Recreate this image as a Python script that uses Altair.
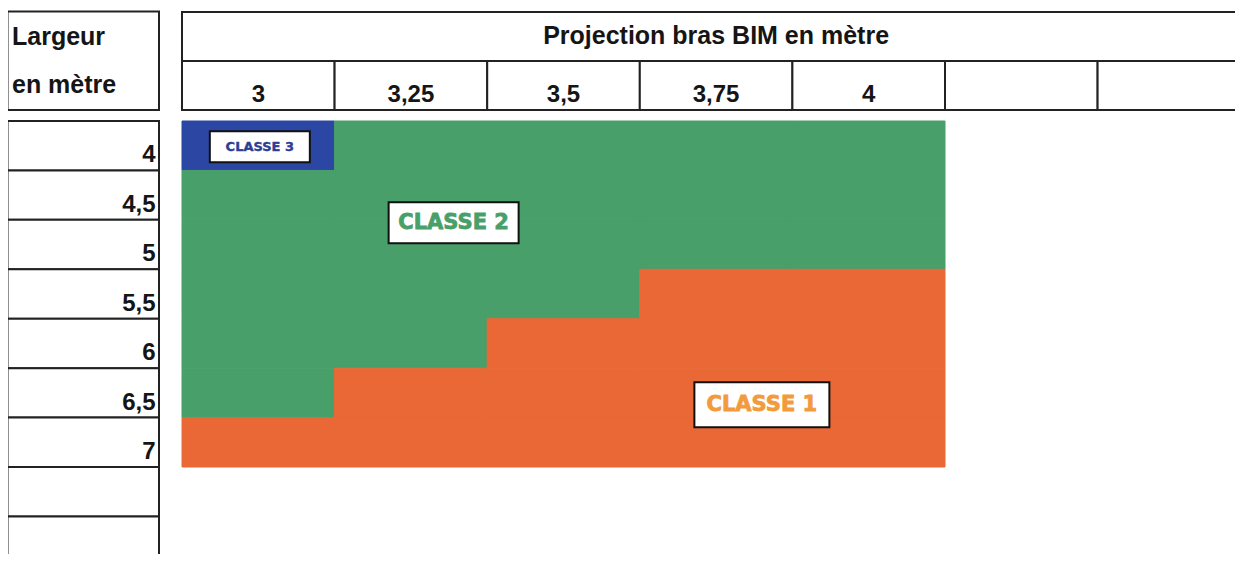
import altair as alt
import pandas as pd

# ---------------- data ----------------
projections = [3, 3.25, 3.5, 3.75, 4]          # Projection bras BIM (m)
n_empty_cols = 2                                # empty header cells on the right
largeurs = [4, 4.5, 5, 5.5, 6, 6.5, 7]          # Largeur (m)
n_empty_rows = 2                                # empty row cells below
# class per (largeur row, projection column)
classes = [
    [3, 2, 2, 2, 2],
    [2, 2, 2, 2, 2],
    [2, 2, 2, 2, 2],
    [2, 2, 2, 1, 1],
    [2, 2, 1, 1, 1],
    [2, 1, 1, 1, 1],
    [1, 1, 1, 1, 1],
]
class_names = ["CLASSE 1", "CLASSE 2", "CLASSE 3"]
class_colors = ["#E96836", "#489F6A", "#2B46A3"]
label_colors = ["#F29A3C", "#489F6A", "#2E3D94"]
# annotation labels: class, centre (column units, row units)
ann_class = [3, 2, 1]
ann_col = [0.51, 1.78, 3.80]
ann_row = [0.52, 2.06, 5.74]

header_title = "Projection bras BIM en mètre"
left_title = ["Largeur", "en mètre"]


def fmt(v):
    return f"{v:g}".replace(".", ",")


# ---------------- layout (px) ----------------
W, H = 1227, 546
X0, CW = 182.0, 152.6       # left of grid, column width
Y0, RH = 121.0, 49.43       # top of grid, row height
ox, oy = 8.0, 8.0           # page margin


def u(px):
    return (px - X0) / CW


def v(py):
    return (py - Y0) / RH


xs = alt.Scale(domain=[u(ox), u(ox + W)], nice=False, zero=False)
ys = alt.Scale(domain=[v(oy), v(oy + H)], nice=False, zero=False, reverse=True)


def enc_rect(ch):
    return ch.encode(
        x=alt.X("x0:Q", scale=xs, axis=None),
        x2="x1:Q",
        y=alt.Y("y0:Q", scale=ys, axis=None),
        y2="y1:Q",
    )


def enc_pt(ch):
    return ch.encode(
        x=alt.X("x:Q", scale=xs, axis=None),
        y=alt.Y("y:Q", scale=ys, axis=None),
        text="t:N",
    )


LINE = "#222222"
TXT = "#151515"
FONT = "Liberation Sans"

n_cols = len(projections) + n_empty_cols
n_rows = len(largeurs) + n_empty_rows
lc0, lc1 = u(7.5), u(159.0)
h_top, h_mid, h_bot = v(12.0), v(61.0), v(110.0)

# table frame boxes
boxes = [dict(x0=lc0, x1=lc1, y0=v(11.5), y1=h_bot),
         dict(x0=0, x1=n_cols, y0=h_top, y1=h_mid)]
for i in range(n_cols):
    boxes.append(dict(x0=i, x1=i + 1, y0=h_mid, y1=h_bot))
for j in range(n_rows):
    boxes.append(dict(x0=lc0, x1=lc1, y0=j, y1=j + 1))
frame = enc_rect(alt.Chart(pd.DataFrame(boxes)).mark_rect(
    fill="white", stroke=LINE, strokeWidth=2))

# heatmap cells
cells = []
for j, lg in enumerate(largeurs):
    for i, pr in enumerate(projections):
        c = classes[j][i]
        cells.append(dict(largeur=lg, projection=pr, cls=class_names[c - 1],
                          x0=i, x1=i + 1, y0=j, y1=j + 1))
cscale = alt.Scale(domain=class_names, range=class_colors)
heat = enc_rect(alt.Chart(pd.DataFrame(cells)).mark_rect(strokeWidth=1)).encode(
    color=alt.Color("cls:N", scale=cscale, legend=None),
    stroke=alt.Stroke("cls:N", scale=cscale, legend=None),
)

# texts
col_lbl = [fmt(p) for p in projections] + [""] * n_empty_cols
row_lbl = [fmt(l) for l in largeurs] + [""] * n_empty_rows
col_df = pd.DataFrame(dict(x=[i + 0.5 for i in range(n_cols)],
                           y=[h_bot - 8.3 / RH] * n_cols, t=col_lbl))
row_df = pd.DataFrame(dict(x=[u(155.5)] * n_rows,
                           y=[j + 1 - 8.0 / RH for j in range(n_rows)], t=row_lbl))
col_txt = enc_pt(alt.Chart(col_df).mark_text(
    font=FONT, fontSize=24, fontWeight="bold", color=TXT, align="center", baseline="alphabetic"))
row_txt = enc_pt(alt.Chart(row_df).mark_text(
    font=FONT, fontSize=24, fontWeight="bold", color=TXT, align="right", baseline="alphabetic"))
title_df = pd.DataFrame(dict(x=[n_cols / 2], y=[v(44.0)], t=[header_title]))
title_txt = enc_pt(alt.Chart(title_df).mark_text(
    font=FONT, fontSize=25, fontWeight="bold", color=TXT, align="center", baseline="alphabetic"))
left_df = pd.DataFrame(dict(x=[u(12.0)] * 2, y=[v(45.0), v(93.0)], t=left_title))
left_txt = enc_pt(alt.Chart(left_df).mark_text(
    font=FONT, fontSize=25, fontWeight="bold", color=TXT, align="left", baseline="alphabetic"))

# class annotation boxes + labels
ann_layers = []
box_px = {3: (100, 31, 13, 0.4), 2: (130, 41, 21, 0.8), 1: (135, 45, 21, 0.8)}
for c, cx, cy in zip(ann_class, ann_col, ann_row):
    bw, bh, fs, sw = box_px[c]
    bdf = pd.DataFrame([dict(x0=cx - bw / 2 / CW, x1=cx + bw / 2 / CW,
                             y0=cy - bh / 2 / RH, y1=cy + bh / 2 / RH)])
    ann_layers.append(enc_rect(alt.Chart(bdf).mark_rect(
        fill="white", stroke="#111111", strokeWidth=2)))
    tdf = pd.DataFrame([dict(x=cx, y=cy, t=class_names[c - 1])])
    ann_layers.append(enc_pt(alt.Chart(tdf).mark_text(
        font="DejaVu Sans", fontSize=fs, fontWeight="bold", color=label_colors[c - 1],
        stroke=label_colors[c - 1], strokeWidth=sw,
        align="center", baseline="middle")))

chart = alt.layer(frame, heat, col_txt, row_txt, title_txt, left_txt, *ann_layers).properties(
    width=W, height=H,
    autosize=alt.AutoSizeParams(type="none"),
    padding=0,
).configure_view(stroke=None)

chart.save("out.html", embed_options={"renderer": "svg", "actions": False})
